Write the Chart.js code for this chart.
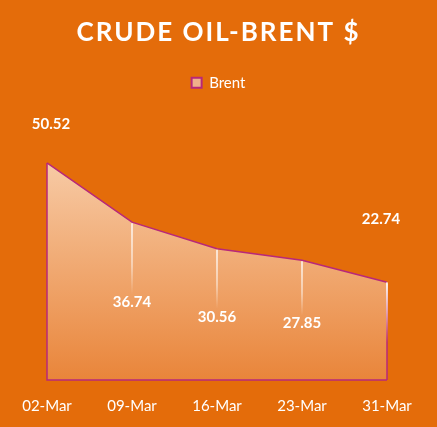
<!DOCTYPE html>
<html>
<head>
    <title>Crude Oil - Brent</title>
    <style>
        body { margin: 0; background: #E46C0A; }
        #wrap { width: 437px; height: 427px; }
    </style>
</head>
<body>
    <div id="wrap">
        <canvas id="myChart"></canvas>
    </div>

    <script src="https://cdn.jsdelivr.net/npm/chart.js"></script>

    <script>
        const labels = ['02-Mar', '09-Mar', '16-Mar', '23-Mar', '31-Mar'];
        const brent = [50.52, 36.74, 30.56, 27.85, 22.74];

        const bg = '#E46C0A';
        const edge = '#B8287A';
        // where each value label sits relative to its point (dx, dy)
        const labelOffsets = [[4, -39], [0, 80], [0, 68], [0, 63], [-6, -63]];

        Chart.defaults.font.family = 'Lato, "Open Sans", sans-serif';
        Chart.defaults.color = '#fff';

        const fillBg = {
            id: 'fillBg',
            beforeDraw(chart) {
                const c = chart.ctx;
                c.save();
                c.fillStyle = bg;
                c.fillRect(0, 0, chart.width, chart.height);
                c.restore();
            }
        };

        // extra room under the legend, letter spacing on the title
        const tweaks = {
            id: 'tweaks',
            beforeInit(chart) {
                const fit = chart.legend.fit;
                chart.legend.fit = function () {
                    fit.call(this);
                    this.height += 22;
                };
                const draw = chart.titleBlock.draw;
                chart.titleBlock.draw = function () {
                    this.ctx.letterSpacing = '2px';
                    draw.call(this);
                    this.ctx.letterSpacing = '0px';
                };
            }
        };

        // side edges of the area + drop lines + value labels
        const extras = {
            id: 'extras',
            afterDatasetsDraw(chart) {
                const c = chart.ctx;
                const pts = chart.getDatasetMeta(0).data;
                const y0 = chart.scales.y.getPixelForValue(0);
                c.save();
                pts.forEach((p, i) => {
                    const off = labelOffsets[i];
                    let end;
                    if (off[1] > 0) end = p.y + off[1] - 8;
                    else if (i === pts.length - 1) end = p.y + 50;
                    else return;
                    const g = c.createLinearGradient(0, p.y, 0, end);
                    g.addColorStop(0, 'rgba(255,255,255,0.95)');
                    g.addColorStop(0.6, 'rgba(255,255,255,0.6)');
                    g.addColorStop(1, 'rgba(255,255,255,0)');
                    c.strokeStyle = g;
                    c.lineWidth = 1.5;
                    c.beginPath();
                    c.moveTo(p.x, p.y + 1);
                    c.lineTo(p.x, end);
                    c.stroke();
                });
                c.strokeStyle = edge;
                c.lineWidth = 1.5;
                const first = pts[0], last = pts[pts.length - 1];
                c.beginPath();
                c.moveTo(first.x, first.y);
                c.lineTo(first.x, y0);
                c.lineTo(last.x, y0);
                c.stroke();
                const gr = c.createLinearGradient(0, last.y, 0, last.y + 60);
                gr.addColorStop(0, 'rgba(255,255,255,0.9)');
                gr.addColorStop(1, edge);
                c.strokeStyle = gr;
                c.beginPath();
                c.moveTo(last.x, last.y);
                c.lineTo(last.x, y0);
                c.stroke();
                c.fillStyle = '#fff';
                c.font = 'bold 15px Lato, "Open Sans", sans-serif';
                c.textAlign = 'center';
                c.textBaseline = 'middle';
                pts.forEach((p, i) => {
                    c.fillText(brent[i].toFixed(2), p.x + labelOffsets[i][0], p.y + labelOffsets[i][1]);
                });
                c.restore();
            }
        };

        const ctx = document.getElementById('myChart');

        new Chart(ctx, {
            type: 'line',
            data: {
                labels: labels,
                datasets: [{
                    label: 'Brent',
                    data: brent,
                    fill: 'origin',
                    borderColor: edge,
                    borderWidth: 1.5,
                    tension: 0,
                    pointRadius: 0,
                    backgroundColor: (context) => {
                        const chart = context.chart;
                        const area = chart.chartArea;
                        if (!area) return '#F2B07F';
                        const top = chart.scales.y.getPixelForValue(50.52);
                        const g = chart.ctx.createLinearGradient(0, top, 0, area.bottom);
                        g.addColorStop(0, '#F7CAA5');
                        g.addColorStop(1, '#E9853A');
                        return g;
                    }
                }]
            },
            options: {
                responsive: true,
                maintainAspectRatio: false,
                animation: false,
                layout: {
                    padding: { left: 0, right: 0, top: 0, bottom: 3 }
                },
                plugins: {
                    title: {
                        display: true,
                        text: 'CRUDE OIL-BRENT $',
                        color: '#fff',
                        font: { size: 26, weight: 'bold' },
                        padding: { top: 17, bottom: 17 }
                    },
                    legend: {
                        labels: {
                            boxWidth: 10,
                            boxHeight: 10,
                            font: { size: 15 },
                            generateLabels: () => [{
                                text: 'Brent',
                                fillStyle: '#F0B08A',
                                strokeStyle: edge,
                                lineWidth: 2,
                                fontColor: '#fff',
                                datasetIndex: 0
                            }]
                        }
                    },
                    tooltip: { enabled: false }
                },
                scales: {
                    x: {
                        grid: { display: false },
                        border: { display: false },
                        ticks: { color: '#fff', font: { size: 15 }, padding: 9, maxRotation: 0 }
                    },
                    y: {
                        min: 0,
                        max: 60,
                        grid: { display: false },
                        border: { display: false },
                        ticks: { display: false },
                        afterFit: (s) => { s.width = 47; }
                    },
                    yRight: {
                        position: 'right',
                        grid: { display: false },
                        border: { display: false },
                        ticks: { display: false },
                        afterFit: (s) => { s.width = 50; }
                    }
                }
            },
            plugins: [fillBg, tweaks, extras]
        });
    </script>
</body>
</html>
